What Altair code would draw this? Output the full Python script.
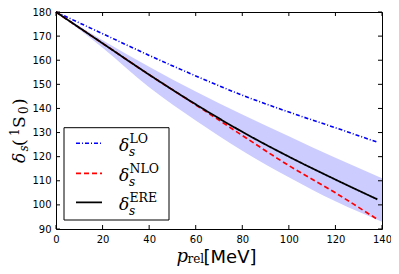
import altair as alt
import pandas as pd

# ---- data ----
p_lines = [0, 20, 40, 60, 80, 100, 120, 138]
lo_vals = [180, 171, 162, 153.5, 145.5, 138.5, 132, 126]
nlo_vals = [180, 167, 154, 141.5, 128.8, 116.3, 105, 94]
ere_vals = [180, 167, 154, 141.7, 130.3, 120, 110.5, 102.3]

p_band = [0, 20, 40, 60, 80, 100, 120, 140]
band_upper = [180, 168.3, 157.3, 147, 137.5, 128.5, 119.5, 111]
band_lower = [180, 165.2, 148.8, 135, 122.5, 111.5, 101.5, 93]

series = ["LO", "NLO", "ERE"]
series_colors = ["#0000ff", "#ff0000", "#000000"]
series_dash = [[4, 2, 1, 2], [5, 3], [1, 0]]
series_width = [1.6, 1.8, 1.8]

x_ticks = [0, 20, 40, 60, 80, 100, 120, 140]
y_ticks = [90, 100, 110, 120, 130, 140, 150, 160, 170, 180]

W, H = 326, 217

lines_df = pd.DataFrame(
    {
        "p": p_lines * 3,
        "v": lo_vals + nlo_vals + ere_vals,
        "s": ["LO"] * len(p_lines) + ["NLO"] * len(p_lines) + ["ERE"] * len(p_lines),
    }
)
band_df = pd.DataFrame({"p": p_band, "v": band_lower, "v2": band_upper})

x_axis = alt.Axis(values=x_ticks, ticks=False, tickSize=0, domain=False, grid=False,
                  labelFont="DejaVu Sans", labelFontSize=10, labelColor="black",
                  labelPadding=5, title=None, labelFlush=False)
y_axis = alt.Axis(values=y_ticks, ticks=False, tickSize=0, domain=False, grid=False,
                  labelFont="DejaVu Sans", labelFontSize=10, labelColor="black",
                  labelPadding=5, title=None)
x_scale = alt.Scale(domain=[0, 140], nice=False, zero=False)
y_scale = alt.Scale(domain=[90, 180], nice=False, zero=False)

X = alt.X("p:Q", scale=x_scale, axis=x_axis)
Y = alt.Y("v:Q", scale=y_scale, axis=y_axis)

color_enc = alt.Color("s:N", scale=alt.Scale(domain=series, range=series_colors), legend=None)
dash_enc = alt.StrokeDash("s:N", scale=alt.Scale(domain=series, range=series_dash), legend=None)
width_enc = alt.StrokeWidth("s:N", scale=alt.Scale(domain=series, range=series_width), legend=None)

band = alt.Chart(band_df).mark_area(color="#ccccff", opacity=1, interpolate="monotone").encode(
    x=X, y=Y, y2="v2:Q"
)
lines = alt.Chart(lines_df).mark_line(interpolate="monotone").encode(
    x=X, y=Y, color=color_enc, strokeDash=dash_enc, strokeWidth=width_enc,
    order=alt.Order("p:Q")
)

xt_df = pd.DataFrame({"p": x_ticks})
yt_df = pd.DataFrame({"v": y_ticks})
tick_bottom = alt.Chart(xt_df).mark_rule(color="black", strokeWidth=1).encode(
    x=X, y=alt.value(H), y2=alt.value(H - 4))
tick_top = alt.Chart(xt_df).mark_rule(color="black", strokeWidth=1).encode(
    x=X, y=alt.value(0), y2=alt.value(4))
tick_left = alt.Chart(yt_df).mark_rule(color="black", strokeWidth=1).encode(
    y=Y, x=alt.value(0), x2=alt.value(4))
tick_right = alt.Chart(yt_df).mark_rule(color="black", strokeWidth=1).encode(
    y=Y, x=alt.value(W), x2=alt.value(W - 4))

# ---- legend (drawn by hand so labels can carry sub/superscripts) ----
leg_box = alt.Chart(pd.DataFrame({"a": [0]})).mark_rect(
    fill="white", stroke="black", strokeWidth=1).encode(
    x=alt.value(8), x2=alt.value(113), y=alt.value(115.7), y2=alt.value(208))

leg_rows = [131.3, 161.3, 190.3]
leg_df = pd.DataFrame({"s": series, "y": leg_rows, "x0": [20] * 3, "x1": [46] * 3})
leg_lines = alt.Chart(leg_df).mark_rule().encode(
    x=alt.X("x0:Q", scale=None), x2="x1:Q", y=alt.Y("y:Q", scale=None),
    color=color_enc, strokeDash=dash_enc, strokeWidth=width_enc)


def txt(t, x, y, size, font="DejaVu Serif", style="normal", angle=0):
    return alt.Chart(pd.DataFrame({"t": [t]})).mark_text(
        align="left", baseline="alphabetic", font=font, fontSize=size,
        fontStyle=style, angle=angle, color="black").encode(
        text="t:N", x=alt.value(x), y=alt.value(y))


leg_texts = []
for name, yy in zip(series, leg_rows):
    leg_texts.append(txt("δ", 63, yy + 7.5, 17, style="italic"))
    leg_texts.append(txt("s", 73, yy + 12.5, 12, style="italic"))
    leg_texts.append(txt(name, 73.5, yy + 0, 12.5))

# ---- axis titles ----
x_title = [
    txt("p", 120.5, 250, 18, style="italic"),
    txt("rel", 131.5, 251, 12),
    txt("[MeV]", 147.5, 250.5, 18, font="DejaVu Sans"),
]
bx = -31
y_title = [
    txt("δ", bx, 151, 17, style="italic", angle=270),
    txt("s", bx + 3, 139.5, 12, style="italic", angle=270),
    txt("(", bx, 134, 17, angle=270),
    txt("1", bx - 6, 124, 12, angle=270),
    txt("S", bx, 116, 17, angle=270),
    txt("0", bx + 3, 102, 12, angle=270),
    txt(")", bx, 93, 17, angle=270),
]

chart = alt.layer(
    band, lines, tick_bottom, tick_top, tick_left, tick_right,
    leg_box, leg_lines, *leg_texts, *x_title, *y_title
).properties(
    width=W, height=H,
    autosize=alt.AutoSizeParams(type="none"),
    padding={"left": 48, "top": 4, "right": 9, "bottom": 39},
).configure_view(stroke="black", strokeWidth=1)

chart.save("out.html", embed_options={"renderer": "svg", "actions": False})
